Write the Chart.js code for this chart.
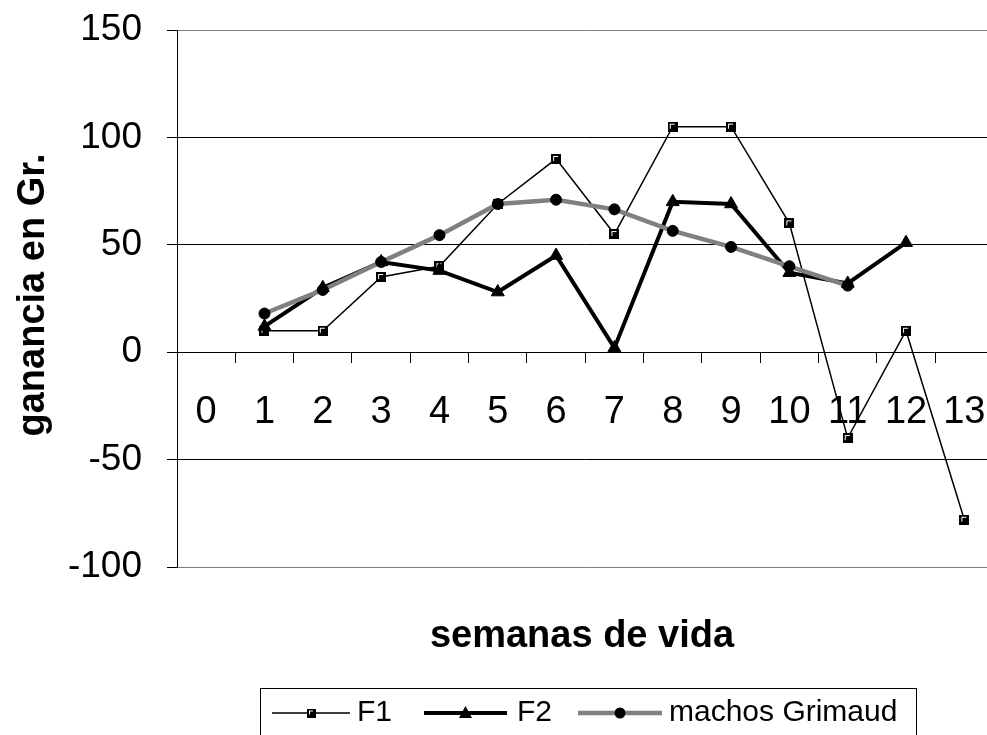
<!DOCTYPE html>
<html>
<head>
<meta charset="utf-8">
<script src="https://cdn.jsdelivr.net/npm/chart.js@4.4.0/dist/chart.umd.min.js"></script>
<style>
  html, body { margin: 0; padding: 0; overflow: hidden; background: #ffffff; }
  #wrap { width: 1002px; height: 735px; }
</style>
</head>
<body>
<div id="wrap"><canvas id="c" width="1002" height="735"></canvas></div>
<script>
// ---- data ----
const categories = ['0', '1', '2', '3', '4', '5', '6', '7', '8', '9', '10', '11', '12', '13'];
const f1 = [null, 10, 10, 35, 40, 69, 90, 55, 105, 105, 60, -40, 10, -78];
const f2 = [null, 12, 30, 42, 38, 28, 45, 2, 70, 69, 37, 32, 51, null];
const grimaud = [null, 18, 29, 42, 54.5, 69, 71, 66.5, 56.5, 49, 40, 31, null, null];
const yTicks = [-100, -50, 0, 50, 100, 150];
const seriesNames = ['F1', 'F2', 'machos Grimaud'];
const xTitle = 'semanas de vida';
const yTitle = 'ganancia en Gr.';

const FONT = "'Liberation Sans', Arial, Helvetica, sans-serif";
Chart.defaults.font.family = FONT;
Chart.defaults.color = '#000';

function squareMarker(size) {
  const c = document.createElement('canvas');
  c.width = size; c.height = size;
  const g = c.getContext('2d');
  g.fillStyle = '#000';
  g.fillRect(0, 0, size, size);
  g.fillStyle = '#fff';
  g.fillRect(2, 2, 1, size - 5);
  g.fillRect(2, 2, size - 5, 1);
  return c;
}
const sq = squareMarker(10);
const sqLegend = squareMarker(9);

const deco = {
  id: 'deco',
  afterDraw(chart) {
    const g = chart.ctx;
    g.save();
    g.fillStyle = '#000';
    // axis titles
    g.font = 'bold 38px ' + FONT;
    g.textAlign = 'center';
    g.textBaseline = 'alphabetic';
    g.fillText(xTitle, 582, 647);
    g.save();
    g.translate(44, 295);
    g.rotate(-Math.PI / 2);
    g.fillText(yTitle, 0, 0);
    g.restore();

    // legend box
    g.strokeStyle = '#000';
    g.lineWidth = 1;
    g.strokeRect(260.5, 688.5, 656, 60);
    const ly = 713;
    const lines = [[272, 350], [424, 507], [578, 662]];
    const textX = [357, 517, 669];
    chart.data.datasets.forEach((ds, i) => {
      const [x0, x1] = lines[i];
      g.strokeStyle = ds.borderColor;
      g.lineWidth = ds.borderWidth;
      g.beginPath();
      g.moveTo(x0, ly);
      g.lineTo(x1, ly);
      g.stroke();
      const cx = (x0 + x1) / 2;
      g.fillStyle = '#000';
      if (i === 0) {
        g.drawImage(sqLegend, Math.round(cx - 4.5), ly - 4.5);
      } else if (i === 1) {
        g.beginPath();
        g.moveTo(cx, ly - 7);
        g.lineTo(cx + 6.5, ly + 5);
        g.lineTo(cx - 6.5, ly + 5);
        g.closePath();
        g.fill();
      } else {
        g.beginPath();
        g.arc(cx, ly, 5.5, 0, Math.PI * 2);
        g.fill();
      }
      g.font = '30px ' + FONT;
      g.textAlign = 'left';
      g.textBaseline = 'middle';
      g.fillStyle = '#000';
      g.fillText(ds.label, textX[i], ly);
    });
    g.restore();
  }
};

new Chart(document.getElementById('c'), {
  type: 'line',
  data: {
    labels: categories,
    datasets: [
      {
        label: seriesNames[0], data: f1, borderColor: '#000', borderWidth: 1.5,
        pointStyle: sq, pointRadius: 5, tension: 0, order: 2
      },
      {
        label: seriesNames[1], data: f2, borderColor: '#000', borderWidth: 4,
        pointStyle: 'triangle', pointRadius: 7.5, pointBackgroundColor: '#000',
        pointBorderColor: '#000', pointBorderWidth: 1, tension: 0, order: 1
      },
      {
        label: seriesNames[2], data: grimaud, borderColor: '#808080', borderWidth: 4.5,
        pointStyle: 'circle', pointRadius: 5.5, pointBackgroundColor: '#000',
        pointBorderColor: '#000', pointBorderWidth: 1, tension: 0, order: 0
      }
    ]
  },
  options: {
    responsive: false,
    animation: false,
    devicePixelRatio: 1,
    layout: { padding: { left: 0, right: 0, top: 30, bottom: 168 } },
    plugins: { legend: { display: false }, tooltip: { enabled: false }, title: { display: false } },
    scales: {
      x: {
        type: 'category',
        offset: true,
        position: { y: 0 },
        grid: { display: true, drawOnChartArea: false, drawTicks: true, tickLength: 10, offset: true, color: '#000', lineWidth: 1 },
        border: { display: true, color: '#000', width: 1 },
        ticks: { font: { size: 38 }, color: '#000', padding: 28, autoSkip: false, maxRotation: 0, minRotation: 0 },
        afterFit: s => { s.paddingLeft = 0; s.paddingRight = 0; }
      },
      y: {
        min: -100, max: 150,
        afterBuildTicks: s => { s.ticks = yTicks.map(v => ({ value: v })); },
        grid: {
          color: c => (c.tick && (c.tick.value === 150 || c.tick.value === -100)) ? '#808080' : '#000',
          tickColor: '#000', tickLength: 10, lineWidth: 1, drawTicks: true
        },
        border: { display: true, color: '#000', width: 1 },
        ticks: { font: { size: 37 }, color: '#000', padding: 25 },
        afterFit: s => { s.width = 177; s.paddingTop = 0; s.paddingBottom = 0; }
      }
    }
  },
  plugins: [deco]
});
</script>
</body>
</html>
